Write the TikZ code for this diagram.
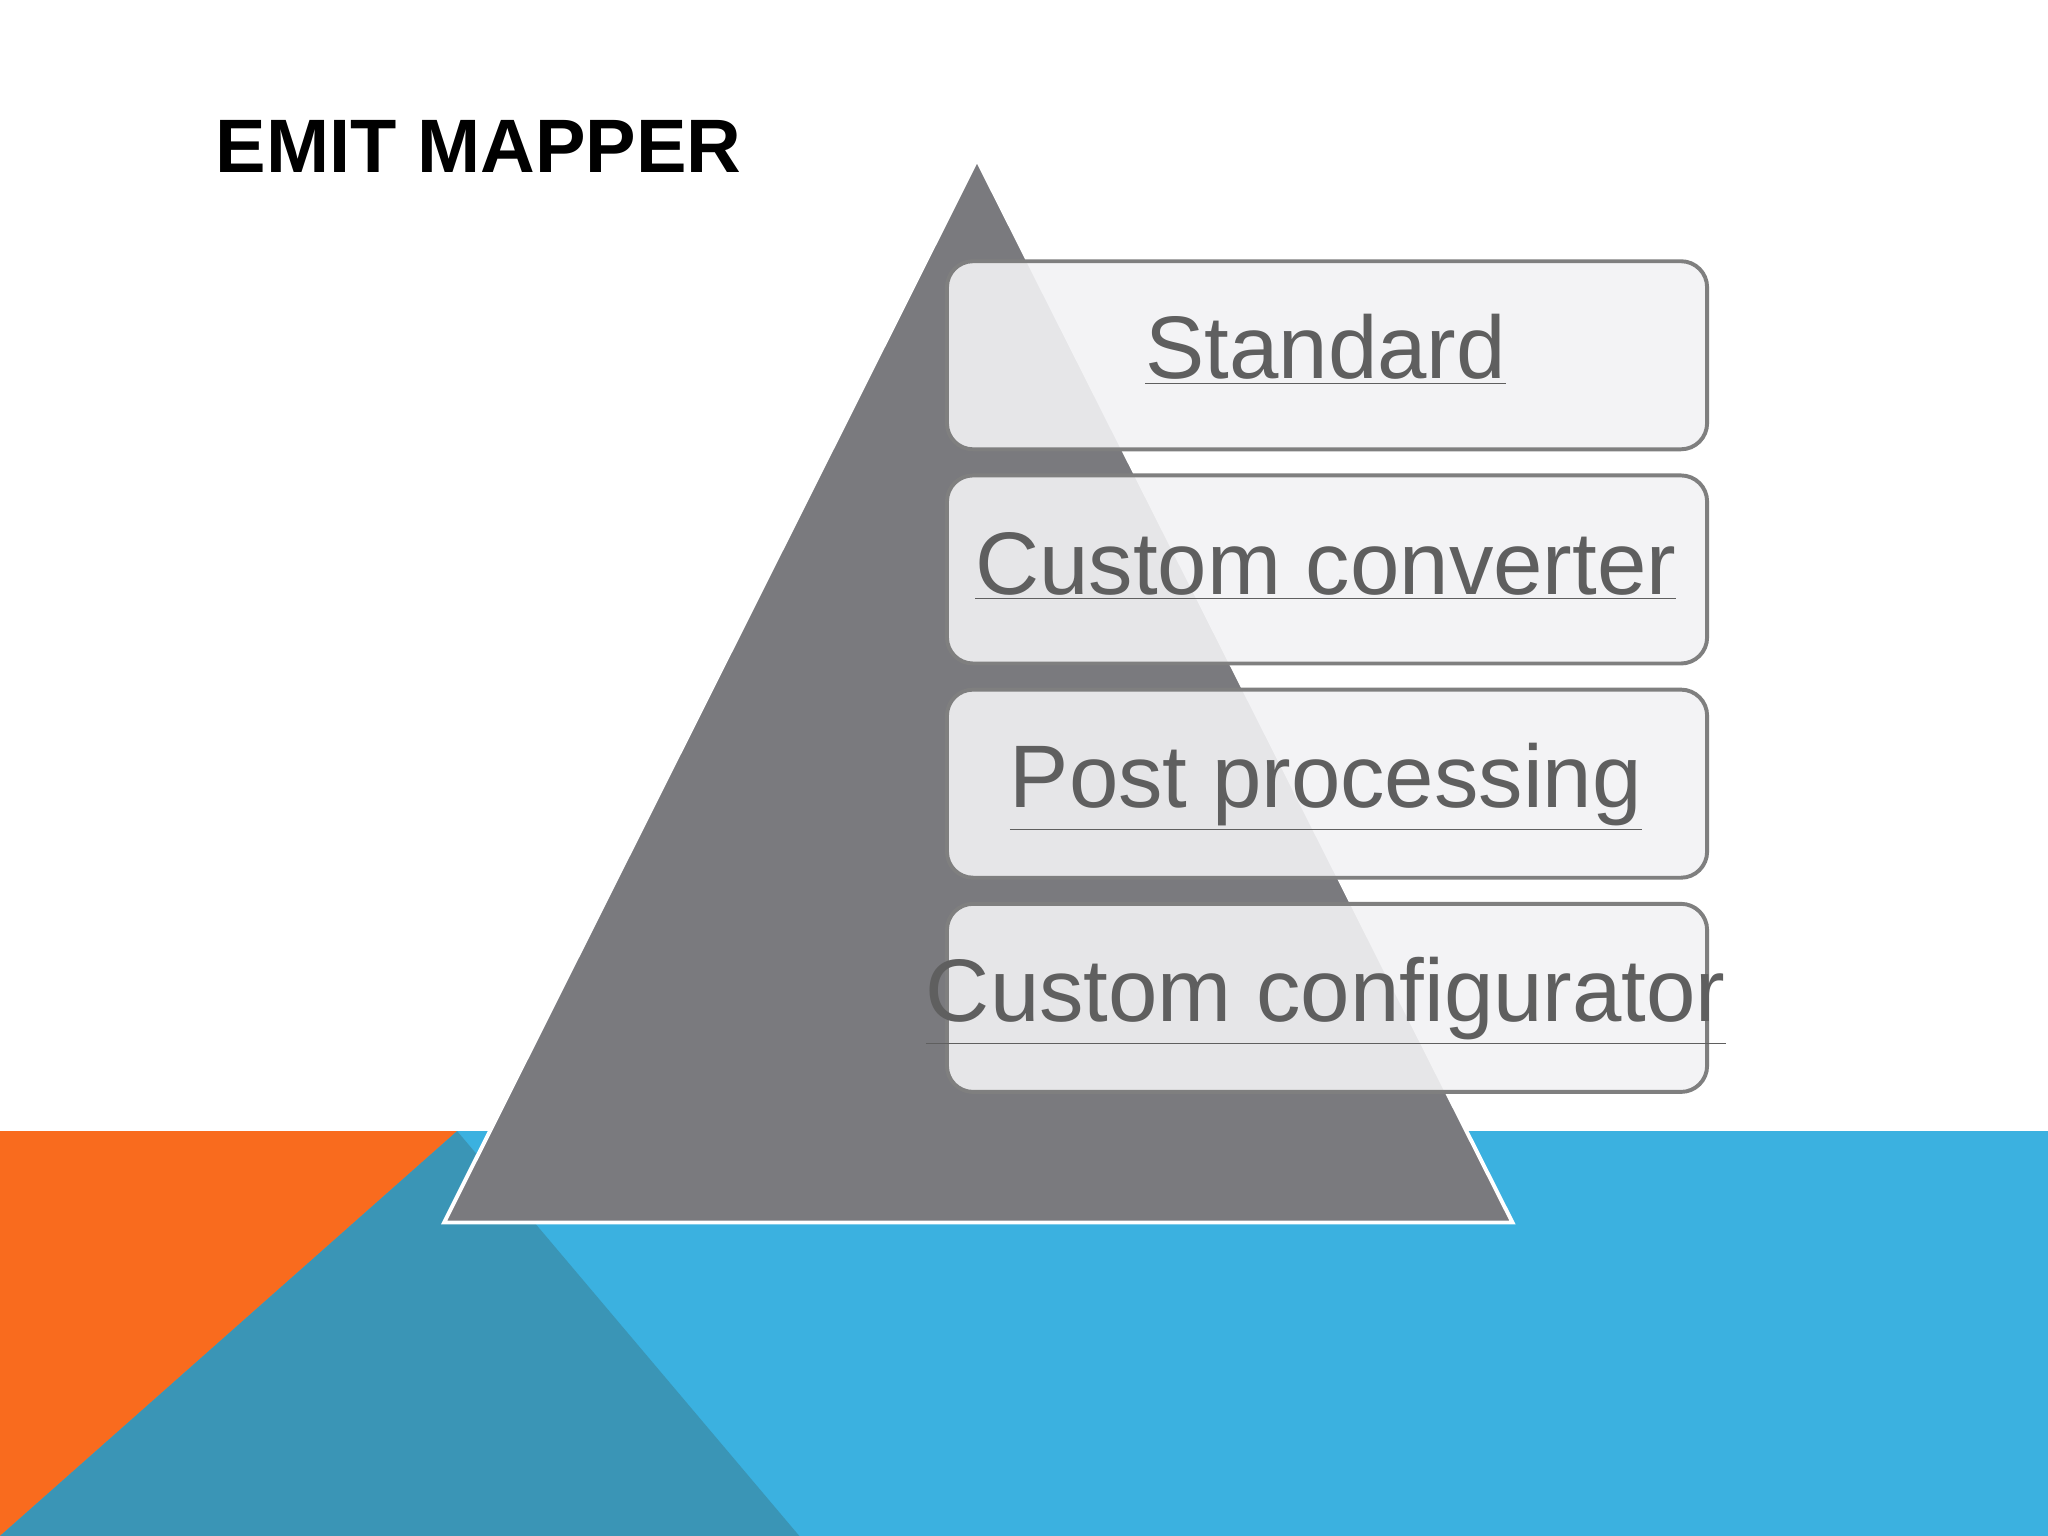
\documentclass[tikz,border=0pt]{standalone}
\usepackage{fontspec}
\setmainfont{Liberation Sans}
\begin{document}
\begin{tikzpicture}[x=0.5pt,y=-0.5pt,
  box/.style={draw=boxline,line width=1.5pt,fill=boxfill,fill opacity=0.9,rounded corners=10pt},
  lbl/.style={text=lbltext,font=\fontsize{34}{40}\selectfont,anchor=base}]
\definecolor{bluebg}{HTML}{3BB1E0}
\definecolor{tealbg}{HTML}{3A95B6}
\definecolor{orangebg}{HTML}{F96B1E}
\definecolor{pyr}{HTML}{7A7A7E}
\definecolor{boxfill}{HTML}{F2F2F4}
\definecolor{boxline}{HTML}{7F7F7F}
\definecolor{lbltext}{HTML}{5F5F5F}
\useasboundingbox (0,0) rectangle (1568,1176);
\fill[white] (0,0) rectangle (1568,1176);
\fill[bluebg] (0,866) rectangle (1568,1176);
\fill[orangebg] (0,866) -- (350,866) -- (0,1176) -- cycle;
\fill[tealbg] (350,866) -- (612,1176) -- (0,1176) -- cycle;
\node[anchor=base west,font=\bfseries\fontsize{29}{34}\selectfont] (title) at (158,132) {EMIT MAPPER};
\draw[fill=pyr,draw=white,line width=1.5pt] (748,122) -- (1158,936) -- (340,936) -- cycle;
\draw[box] (725,200) rectangle (1307,344);
\draw[box] (725,364) rectangle (1307,508);
\draw[box] (725,528) rectangle (1307,672);
\draw[box] (725,692) rectangle (1307,836);
\node[lbl] (a) at (1015,290) {\underline{Standard}};
\node[lbl] (b) at (1015,455) {\underline{Custom converter}};
\node[lbl] (c) at (1015,618) {\underline{Post processing}};
\node[lbl] (d) at (1015,782) {\underline{Custom configurator}};
\end{tikzpicture}
\end{document}
